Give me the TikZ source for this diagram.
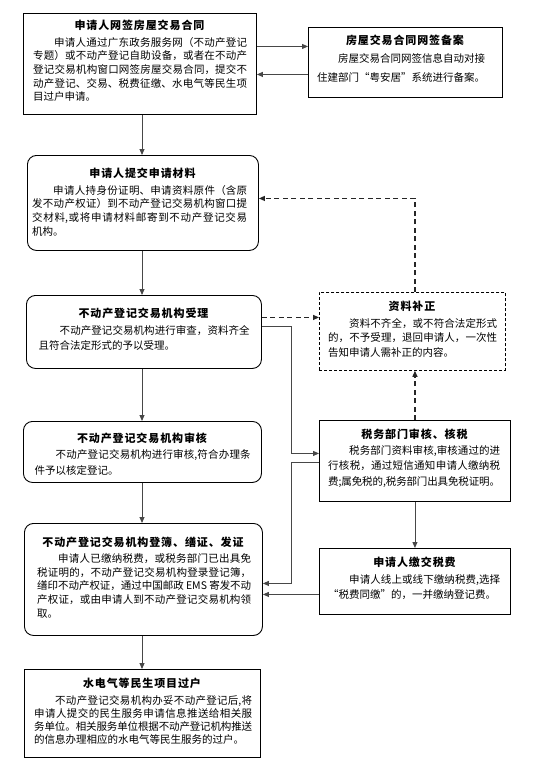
\documentclass[tikz,border=0pt]{standalone}
\usepackage{fontspec}
\setmainfont{Noto Sans CJK SC}
\newfontfamily\titlefont[LetterSpace=8]{Noto Sans CJK SC}
\XeTeXlinebreaklocale "zh"
\XeTeXlinebreakskip=0pt plus 3pt minus 0.4pt
\usetikzlibrary{arrows.meta,calc}
\tikzset{
  sq/.style={draw=black, line width=0.9pt, inner sep=0pt, anchor=north west},
  rnd/.style={sq, rounded corners=9pt},
  dbox/.style={sq, line width=0.8pt, dash pattern=on 3pt off 2pt},
  ttl/.style={font=\titlefont\bfseries\fontsize{11}{13}\selectfont, inner sep=0pt, anchor=base},
  body/.style={inner sep=0pt, anchor=base west, align=justify, font=\fontsize{10.5}{#1}\selectfont},
  arr/.style={draw=black!72, line width=0.9pt, -{Triangle[length=6pt,width=5pt]}},
  darr/.style={arr, draw=black!85, line width=1.2pt, dash pattern=on 5pt off 3.5pt},
}
\begin{document}
\begin{tikzpicture}[x=1pt,y=-1pt]
\fill[white] (0,0) rectangle (541,776);
\useasboundingbox (0,0) rectangle (541,776);

% boxes
\node[sq,  minimum width=233pt, minimum height=101pt] (b1) at (23,13) {};
\node[sq,  minimum width=194pt, minimum height=70pt]  (b2) at (308,27) {};
\node[rnd, minimum width=231pt, minimum height=95pt]  (b3) at (27,155) {};
\node[rnd, minimum width=235pt, minimum height=73pt]  (b4) at (26,295) {};
\node[dbox,minimum width=186pt, minimum height=78pt]  (b5) at (319,292) {};
\node[rnd, minimum width=238pt, minimum height=61pt]  (b6) at (23,421) {};
\node[sq,  minimum width=191pt, minimum height=81pt]  (b7) at (319,420) {};
\node[rnd, minimum width=238pt, minimum height=112pt] (b8) at (24,523) {};
\node[sq,  minimum width=191pt, minimum height=66pt]  (b9) at (319,548) {};
\node[sq,  minimum width=236pt, minimum height=88pt]  (b10) at (24,669) {};

% titles
\node[ttl] (h1) at (139.5,29.9) {申请人网签房屋交易合同};
\node[ttl] (h2) at (405,44.9) {房屋交易合同网签备案};
\node[ttl] (h3) at (142.5,177.5) {申请人提交申请材料};
\node[ttl] (h4) at (143.5,317.6) {不动产登记交易机构受理};
\node[ttl] (h5) at (412,310.1) {资料补正};
\node[ttl] (h6) at (142,442.2) {不动产登记交易机构审核};
\node[ttl] (h7) at (414.5,438.7) {税务部门审核、核税};
\node[ttl] (h8) at (143,546.2) {不动产登记交易机构登簿、缮证、发证};
\node[ttl] (h9) at (414.5,566.6) {申请人缴交税费};
\node[ttl] (h10) at (142,687.5) {水电气等民生项目过户};

% bodies
\node[body=13.6, text width=214pt] (p1) at (33,46.3) {\hspace*{2em}申请人通过广东政务服务网（不动产登记\linebreak
专题）或不动产登记自助设备，或者在不动产\linebreak
登记交易机构窗口网签房屋交易合同，提交不\linebreak
动产登记、交易、税费征缴、水电气等民生项\linebreak
目过户申请。};
\node[body=19, text width=168pt] (p2) at (317,62.3) {\hspace*{2em}房屋交易合同网签信息自动对接\linebreak
住建部门“粤安居”系统进行备案。};
\node[body=13.9, text width=215pt] (p3) at (32,194) {\hspace*{2em}申请人持身份证明、申请资料原件（含原\linebreak
发不动产权证）到不动产登记交易机构窗口提\linebreak
交材料,或将申请材料邮寄到不动产登记交易\linebreak
机构。};
\node[body=15.5, text width=211pt] (p4) at (38.5,334) {\hspace*{2em}不动产登记交易机构进行审查，资料齐全\linebreak
且符合法定形式的予以受理。};
\node[body=14.7, text width=169pt] (p5) at (328,327) {\hspace*{2em}资料不齐全，或不符合法定形式\linebreak
的，不予受理，退回申请人，一次性\linebreak
告知申请人需补正的内容。};
\node[body=15.5, text width=216pt] (p6) at (34.5,458.5) {\hspace*{2em}不动产登记交易机构进行审核,符合办理条\linebreak
件予以核定登记。};
\node[body=15.5, text width=172pt] (p7) at (328,454) {\hspace*{2em}税务部门资料审核,审核通过的进\linebreak
行核税，通过短信通知申请人缴纳税\linebreak
费;属免税的,税务部门出具免税证明。};
\node[body=13.8, text width=214pt] (p8) at (37,562.3) {\hspace*{2em}申请人已缴纳税费，或税务部门已出具免\linebreak
税证明的，不动产登记交易机构登录登记簿，\linebreak
缮印不动产权证，通过中国邮政 EMS 寄发不动\linebreak
产权证，或由申请人到不动产登记交易机构领\linebreak
取。};
\node[body=14.8, text width=172pt] (p9) at (328,583.7) {\hspace*{2em}申请人线上或线下缴纳税费,选择\linebreak
“税费同缴”的，一并缴纳登记费。};
\node[body=13.3, text width=218pt] (p10) at (34,704) {\hspace*{2em}不动产登记交易机构办妥不动产登记后,将\linebreak
申请人提交的民生服务申请信息推送给相关服\linebreak
务单位。相关服务单位根据不动产登记机构推送\linebreak
的信息办理相应的水电气等民生服务的过户。};

% connector helpers
\coordinate (colx) at (142,0);
\coordinate (vx) at (291,0);

% main column
\draw[arr] (colx |- b1.south) -- (colx |- b3.north);
\draw[arr] (colx |- b3.south) -- (colx |- b4.north);
\draw[arr] (colx |- b4.south) -- (colx |- b6.north);
\draw[arr] (colx |- b6.south) -- (colx |- b8.north);
\draw[arr] (colx |- b8.south) -- (colx |- b10.north);

% b1 <-> b2
\draw[arr] ([yshift=17.5pt]b1.east) -- ([yshift=17.5pt]b1.east -| b2.west);
\draw[arr] ([yshift=-10.5pt]b1.east -| b2.west) -- ([yshift=-10.5pt]b1.east);

% b4 -> b5 dashed
\draw[darr] ([yshift=14.5pt]b4.east) -- ([yshift=14.5pt]b4.east -| b5.west);
% b5 -> b3 dashed
\draw[darr] (b7.north |- b5.north) |- ([yshift=4.5pt]b3.east);
% b7 -> b5 dashed
\draw[darr] (b7.north) -- (b7.north |- b5.south);

% b4 -> b7
\draw[arr] ([yshift=5.5pt]b4.east) -| ([yshift=7.5pt]b7.west -| vx) -- ([yshift=7.5pt]b7.west);
% b7 -> b8
\draw[arr] ([yshift=-1.5pt]b7.west) -| ([yshift=-4pt]b8.east -| vx) -- ([yshift=-4pt]b8.east);
% b7 -> b9
\draw[arr] (b7.south) -- (b7.south |- b9.north);
% b9 -> b8
\draw[arr] ([yshift=-13pt]b9.west) -- ([yshift=-13pt]b9.west -| b8.east);
\end{tikzpicture}
\end{document}
